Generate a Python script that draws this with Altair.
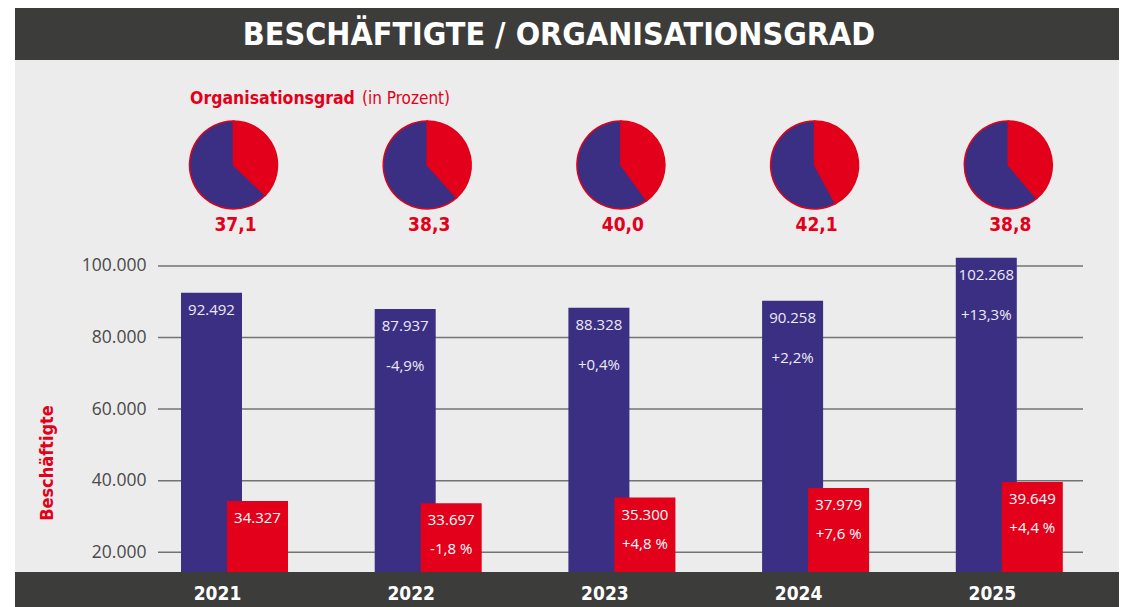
import altair as alt
import pandas as pd

# ---------------- data ----------------
years = ["2021", "2022", "2023", "2024", "2025"]
beschaeftigte = [92492, 87937, 88328, 90258, 102268]
mitglieder = [34327, 33697, 35300, 37979, 39649]
besch_change = ["", "-4,9%", "+0,4%", "+2,2%", "+13,3%"]
mitgl_change = ["", "-1,8 %", "+4,8 %", "+7,6 %", "+4,4 %"]
orggrad = [37.1, 38.3, 40.0, 42.1, 38.8]
orggrad_labels = ["37,1", "38,3", "40,0", "42,1", "38,8"]
y_ticks = [20000, 40000, 60000, 80000, 100000]

title_text = "BESCHÄFTIGTE / ORGANISATIONSGRAD"
pie_title = "Organisationsgrad"
pie_subtitle = "(in Prozent)"
y_title = "Beschäftigte"

# ---------------- style ----------------
BLUE = "#3b2f84"
RED = "#e2001a"
DARK = "#3c3c3a"
BG = "#ececec"
COND = "'DejaVu Sans Condensed', 'Liberation Sans Narrow', Roboto, sans-serif"
REG = "'Open Sans', 'Noto Sans', sans-serif"

df = pd.DataFrame({
    "year": years, "b": beschaeftigte, "m": mitglieder,
    "bc": besch_change, "mc": mitgl_change,
    "og": orggrad, "ogl": orggrad_labels,
})
ticks_df = pd.DataFrame({"t": y_ticks})
one = pd.DataFrame({"k": [0]})

W, H = 925, 324
x_scale = alt.Scale(domain=years, range=[-20.35, 948.15], paddingInner=0, paddingOuter=0, round=False)
y_scale = alt.Scale(domain=[14500, 105000], nice=False, zero=False)

x_axis = alt.Axis(
    title=None, domain=False, ticks=False, labelAngle=0, labelColor="white",
    labelFont=COND, labelFontWeight="bold", labelFontSize=19,
    labelOffset=-17, labelPadding=12, zindex=1, grid=False)
y_axis = alt.Axis(
    values=y_ticks, title=None, domain=False, ticks=False,
    labelExpr="replace(format(datum.value, ','), ',', '.')",
    labelFont=REG, labelFontSize=17.5, labelColor="#4a4a4a",
    labelPadding=12, grid=False)

X = alt.X("year:N", scale=x_scale, sort=years, axis=x_axis)
YB = alt.Y("b:Q", scale=y_scale, axis=y_axis)
YM = alt.Y("m:Q", scale=y_scale, axis=y_axis)

grid = alt.Chart(ticks_df).mark_rule(color="#737373", strokeWidth=1.5).encode(
    y=alt.Y("t:Q", scale=y_scale, axis=y_axis), x=alt.value(0), x2=alt.value(W))

de_fmt = "replace(format({v}, ','), ',', '.')"
base = alt.Chart(df).transform_calculate(
    bl=de_fmt.format(v="datum.b"),
    ml=de_fmt.format(v="datum.m"),
)

blue_bars = base.mark_bar(size=61, xOffset=-23, color=BLUE).encode(x=X, y=YB)
red_bars = base.mark_bar(size=61, xOffset=23, color=RED).encode(x=X, y=YM)

txt_kw = dict(font=REG, fontSize=15, baseline="middle", align="center")
blue_val = base.mark_text(dx=-23, dy=17, color="#ecebf5", **txt_kw).encode(x=X, y=YB, text="bl:N")
blue_chg = base.mark_text(dx=-23, dy=57, color="#ecebf5", **txt_kw).encode(x=X, y=YB, text="bc:N")
red_val = base.mark_text(dx=23, dy=17, color="white", **txt_kw).encode(x=X, y=YM, text="ml:N")
red_chg = base.mark_text(dx=23, dy=46, color="white", **txt_kw).encode(x=X, y=YM, text="mc:N")

# bottom band, header banner, left white strip
band = alt.Chart(one).mark_rect(color=DARK).encode(
    x=alt.value(-143), x2=alt.value(975), y=alt.value(H), y2=alt.value(H + 45))
banner = alt.Chart(one).mark_rect(color=DARK).encode(
    x=alt.value(-143), x2=alt.value(975), y=alt.value(-250), y2=alt.value(-188))
strip = alt.Chart(one).mark_rect(color="white").encode(
    x=alt.value(-155), x2=alt.value(-143), y=alt.value(-250), y2=alt.value(H + 45))

title = alt.Chart(one).mark_text(
    text=title_text, font=COND, fontWeight="bold", fontSize=32, color="white",
    align="center", baseline="middle").encode(x=alt.value(401), y=alt.value(-213))

pie_t1 = alt.Chart(one).mark_text(
    text=pie_title, font=COND, fontWeight="bold", fontSize=17.5, color=RED,
    align="left", baseline="middle").encode(x=alt.value(32), y=alt.value(-149))
pie_t2 = alt.Chart(one).mark_text(
    text=pie_subtitle, font=COND, fontSize=17, color=RED,
    align="left", baseline="middle").encode(x=alt.value(204), y=alt.value(-149))

ytitle = alt.Chart(one).mark_text(
    text=y_title, font=COND, fontWeight="bold", fontSize=18, color=RED,
    angle=270, align="center", baseline="middle").encode(
    x=alt.value(-110.5), y=alt.value(215))

pies = alt.Chart(df).transform_calculate(rest="100 - datum.og").transform_fold(
    ["og", "rest"], as_=["key", "val"]
).transform_stack(
    stack="val", groupby=["year"], as_=["t0", "t1"], sort=[alt.SortField("key", order="ascending")]
).mark_arc(radius=44, stroke=RED, strokeWidth=1.5, xOffset=-1).encode(
    x=X,
    y=alt.value(-83),
    theta=alt.Theta("t0:Q", scale=alt.Scale(domain=[0, 100], range=[0, 6.283185307])),
    theta2="t1:Q",
    color=alt.Color("key:N", scale=alt.Scale(domain=["og", "rest"], range=[RED, BLUE]), legend=None),
)
pie_lbl = alt.Chart(df).mark_text(
    font=COND, fontWeight="bold", fontSize=19, color=RED, dx=1,
    align="center", baseline="middle").encode(
    x=X, y=alt.value(-23), text="ogl:N")

chart = alt.layer(
    grid, blue_bars, red_bars, blue_val, blue_chg, red_val, red_chg,
    band, banner, strip, title, pie_t1, pie_t2, ytitle, pies, pie_lbl,
).properties(
    width=W, height=H,
    autosize=alt.AutoSizeParams(type="none"),
    padding={"left": 150, "top": 240, "right": 36, "bottom": 35},
).configure(background=BG).configure_view(stroke=None)

chart.save("out.html", embed_options={"renderer": "svg", "actions": False})
